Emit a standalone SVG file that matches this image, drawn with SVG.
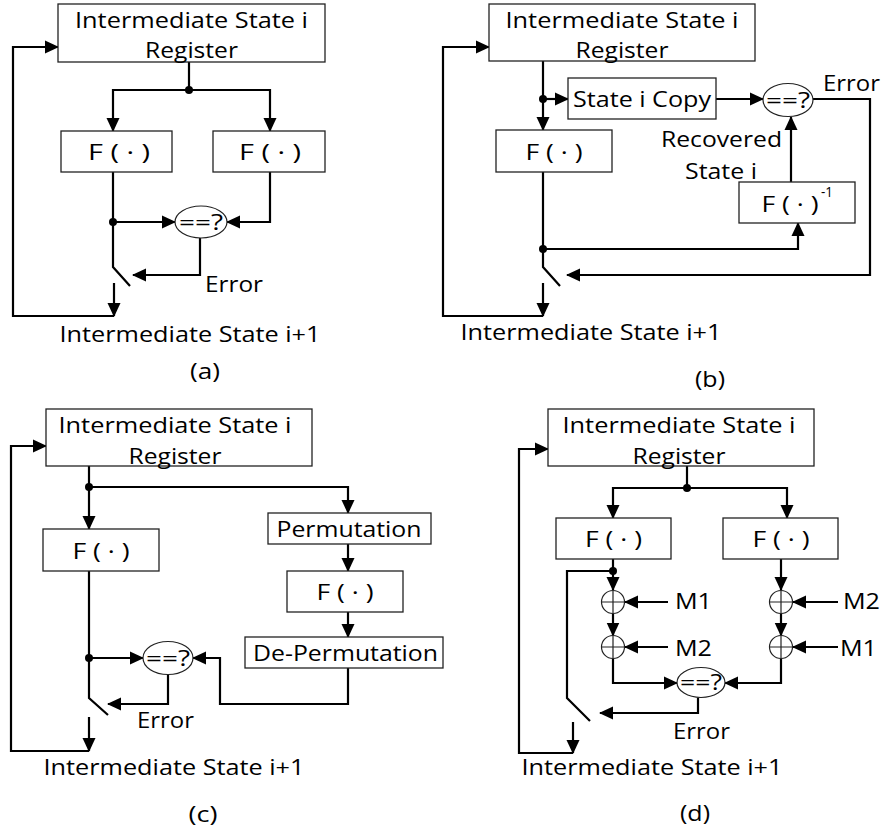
<svg xmlns="http://www.w3.org/2000/svg" width="883" height="830" viewBox="0 0 883 830">
  <style>
    .box { fill: #fff; stroke: #222; stroke-width: 1.3; }
    .cmp { fill: #fff; stroke: #222; stroke-width: 1.2; }
    .w { fill: none; stroke: #000; stroke-width: 2.2; }
    .arr { fill: none; stroke: #000; stroke-width: 2.2; marker-end: url(#ah); }
    .dot { fill: #000; }
    .t { font-family: "Open Sans", "Liberation Sans", sans-serif; font-size: 22.5px; fill: #000; }
    .c { text-anchor: middle; }
    .sup { font-family: "Open Sans", "Liberation Sans", sans-serif; font-size: 14px; fill: #000; }
    .xor { fill: #fff; stroke: #222; stroke-width: 1.2; }
    .xl { stroke: #222; stroke-width: 1.2; }
  </style>
  <defs>
    <marker id="ah" viewBox="0 0 14 14" refX="13" refY="7" markerWidth="14" markerHeight="14" markerUnits="userSpaceOnUse" orient="auto">
      <path d="M0,0.5 L14,7 L0,13.5 z" fill="#000"/>
    </marker>
  </defs>

  <!-- ===================== (a) duplicated computation ===================== -->
  <g id="a-connectors">
    <path class="arr" d="M189,62 V90 H113 V131"/>
    <path class="arr" d="M189,90 H270 V131"/>
    <path class="w" d="M113,172 V267 L130,286"/>
    <path class="arr" d="M113,222 H175"/>
    <path class="arr" d="M270,172 V222 H227"/>
    <path class="arr" d="M200,238 V275 H133"/>
    <path class="arr" d="M114,283 V316"/>
    <path class="arr" d="M114,316 H13 V47 H58"/>
    <circle class="dot" cx="189" cy="90" r="4"/>
    <circle class="dot" cx="113" cy="222" r="4"/>
  </g>
  <g id="a-register">
    <rect class="box" x="58" y="4" width="267" height="58"/>
    <text class="t c" x="191.5" y="28" textLength="233" lengthAdjust="spacingAndGlyphs">Intermediate State i</text>
    <text class="t c" x="191.5" y="58" textLength="93" lengthAdjust="spacingAndGlyphs">Register</text>
  </g>
  <g id="a-f1">
    <rect class="box" x="61" y="131" width="111" height="41"/>
    <text class="t c" x="119" y="159.5" textLength="62" lengthAdjust="spacingAndGlyphs">F ( · )</text>
  </g>
  <g id="a-f2">
    <rect class="box" x="213" y="131" width="112" height="41"/>
    <text class="t c" x="270" y="159.5" textLength="62" lengthAdjust="spacingAndGlyphs">F ( · )</text>
  </g>
  <g id="a-cmp">
    <ellipse class="cmp" cx="201" cy="222" rx="26" ry="16"/>
    <text class="t c" x="201" y="229.5" textLength="44" lengthAdjust="spacingAndGlyphs">==?</text>
  </g>
  <g id="a-labels">
    <text class="t" x="205" y="292" textLength="58" lengthAdjust="spacingAndGlyphs">Error</text>
    <text class="t c" x="190" y="341.5" textLength="261" lengthAdjust="spacingAndGlyphs">Intermediate State i+1</text>
    <text class="t c" x="205" y="378.5" textLength="30" lengthAdjust="spacingAndGlyphs">(a)</text>
  </g>

  <!-- ===================== (b) inverse recomputation ===================== -->
  <g id="b-connectors">
    <path class="arr" d="M543,61 V130"/>
    <path class="arr" d="M543,99 H568"/>
    <path class="arr" d="M716,99 H763"/>
    <path class="arr" d="M813,99 H870 V275 H567"/>
    <path class="w" d="M543,172 V267 L560,286"/>
    <path class="arr" d="M543,249 H798 V223"/>
    <path class="arr" d="M791,182 V117"/>
    <path class="arr" d="M543,283 V316"/>
    <path class="arr" d="M543,316 H443 V47 H489"/>
    <circle class="dot" cx="543" cy="99" r="4"/>
    <circle class="dot" cx="543" cy="249" r="4"/>
  </g>
  <g id="b-register">
    <rect class="box" x="489" y="4" width="266" height="57"/>
    <text class="t c" x="622" y="27.5" textLength="233" lengthAdjust="spacingAndGlyphs">Intermediate State i</text>
    <text class="t c" x="622" y="57.5" textLength="93" lengthAdjust="spacingAndGlyphs">Register</text>
  </g>
  <g id="b-copy">
    <rect class="box" x="568" y="78" width="148" height="41"/>
    <text class="t c" x="642" y="107" textLength="138" lengthAdjust="spacingAndGlyphs">State i Copy</text>
  </g>
  <g id="b-cmp">
    <ellipse class="cmp" cx="788" cy="100" rx="25" ry="16.5"/>
    <text class="t c" x="788" y="107.5" textLength="44" lengthAdjust="spacingAndGlyphs">==?</text>
  </g>
  <g id="b-f">
    <rect class="box" x="496" y="130" width="116" height="42"/>
    <text class="t c" x="554" y="159.5" textLength="57" lengthAdjust="spacingAndGlyphs">F ( · )</text>
  </g>
  <g id="b-finv">
    <rect class="box" x="739" y="182" width="116" height="41"/>
    <text class="t c" x="790" y="212" textLength="57" lengthAdjust="spacingAndGlyphs">F ( · )</text>
    <text class="sup" x="821" y="197" textLength="12" lengthAdjust="spacingAndGlyphs">-1</text>
  </g>
  <g id="b-labels">
    <text class="t" x="823" y="91" textLength="57" lengthAdjust="spacingAndGlyphs">Error</text>
    <text class="t" x="661" y="147" textLength="121" lengthAdjust="spacingAndGlyphs">Recovered</text>
    <text class="t" x="685" y="178.5" textLength="72" lengthAdjust="spacingAndGlyphs">State i</text>
    <text class="t c" x="591" y="340" textLength="261" lengthAdjust="spacingAndGlyphs">Intermediate State i+1</text>
    <text class="t c" x="710" y="386.5" textLength="30" lengthAdjust="spacingAndGlyphs">(b)</text>
  </g>

  <!-- ===================== (c) permuted recomputation ===================== -->
  <g id="c-connectors">
    <path class="arr" d="M89,466 V529"/>
    <path class="arr" d="M89,487 H348 V513"/>
    <path class="arr" d="M348,544 V571"/>
    <path class="arr" d="M348,612 V637"/>
    <path class="arr" d="M348,668 V704 H220 V658 H193"/>
    <path class="w" d="M89,571 V698 L108,715"/>
    <path class="arr" d="M89,658 H143"/>
    <path class="arr" d="M168,675 V704 H108"/>
    <path class="arr" d="M89,717 V751"/>
    <path class="arr" d="M89,751 H11 V446 H46"/>
    <circle class="dot" cx="89" cy="487" r="4"/>
    <circle class="dot" cx="89" cy="658" r="4"/>
  </g>
  <g id="c-register">
    <rect class="box" x="46" y="409" width="266" height="57"/>
    <text class="t c" x="175" y="433" textLength="233" lengthAdjust="spacingAndGlyphs">Intermediate State i</text>
    <text class="t c" x="175" y="463.5" textLength="93" lengthAdjust="spacingAndGlyphs">Register</text>
  </g>
  <g id="c-f1">
    <rect class="box" x="43" y="529" width="116" height="42"/>
    <text class="t c" x="101" y="558.5" textLength="57" lengthAdjust="spacingAndGlyphs">F ( · )</text>
  </g>
  <g id="c-perm">
    <rect class="box" x="268" y="513" width="163" height="31"/>
    <text class="t c" x="349" y="536.5" textLength="145" lengthAdjust="spacingAndGlyphs">Permutation</text>
  </g>
  <g id="c-f2">
    <rect class="box" x="287" y="571" width="116" height="41"/>
    <text class="t c" x="345" y="600" textLength="57" lengthAdjust="spacingAndGlyphs">F ( · )</text>
  </g>
  <g id="c-deperm">
    <rect class="box" x="245" y="637" width="198" height="31"/>
    <text class="t" x="253" y="661" textLength="185" lengthAdjust="spacingAndGlyphs">De-Permutation</text>
  </g>
  <g id="c-cmp">
    <ellipse class="cmp" cx="168" cy="658" rx="25" ry="16.5"/>
    <text class="t c" x="168" y="665.5" textLength="44" lengthAdjust="spacingAndGlyphs">==?</text>
  </g>
  <g id="c-labels">
    <text class="t" x="137" y="728" textLength="57" lengthAdjust="spacingAndGlyphs">Error</text>
    <text class="t c" x="174" y="775" textLength="261" lengthAdjust="spacingAndGlyphs">Intermediate State i+1</text>
    <text class="t c" x="203" y="821.5" textLength="29" lengthAdjust="spacingAndGlyphs">(c)</text>
  </g>

  <!-- ===================== (d) masked duplication ===================== -->
  <g id="d-connectors">
    <path class="w" d="M687,466 V488"/>
    <path class="arr" d="M687,488 H613 V518"/>
    <path class="arr" d="M687,488 H787 V518"/>
    <path class="arr" d="M613,559 V590"/>
    <path class="arr" d="M613,613.5 V635.5"/>
    <path class="arr" d="M781,559 V590"/>
    <path class="arr" d="M781,613.5 V635.5"/>
    <path class="arr" d="M668,602 H625"/>
    <path class="arr" d="M668,647 H625"/>
    <path class="arr" d="M838,602 H793"/>
    <path class="arr" d="M838,647 H793"/>
    <path class="arr" d="M613,658.5 V683 H677"/>
    <path class="arr" d="M781,658.5 V683 H725"/>
    <path class="arr" d="M698,697.5 V713 H600"/>
    <path class="w" d="M613,571 H567 V698 L590,721"/>
    <path class="arr" d="M573,722 V753"/>
    <path class="arr" d="M573,753 H519 V449 H548"/>
    <circle class="dot" cx="687" cy="488" r="4"/>
    <circle class="dot" cx="613" cy="571" r="4"/>
  </g>
  <g id="d-register">
    <rect class="box" x="548" y="409" width="266" height="57"/>
    <text class="t c" x="679" y="433" textLength="233" lengthAdjust="spacingAndGlyphs">Intermediate State i</text>
    <text class="t c" x="679" y="463.5" textLength="93" lengthAdjust="spacingAndGlyphs">Register</text>
  </g>
  <g id="d-f1">
    <rect class="box" x="556" y="518" width="115" height="41"/>
    <text class="t c" x="613.5" y="547" textLength="57" lengthAdjust="spacingAndGlyphs">F ( · )</text>
  </g>
  <g id="d-f2">
    <rect class="box" x="723" y="518" width="115" height="41"/>
    <text class="t c" x="781" y="547" textLength="57" lengthAdjust="spacingAndGlyphs">F ( · )</text>
  </g>
  <g id="d-xor1">
    <circle class="xor" cx="613" cy="602" r="11.5"/>
    <path class="xl" d="M601.5,602 H624.5 M613,590.5 V613.5"/>
  </g>
  <g id="d-xor2">
    <circle class="xor" cx="613" cy="647" r="11.5"/>
    <path class="xl" d="M601.5,647 H624.5 M613,635.5 V658.5"/>
  </g>
  <g id="d-xor3">
    <circle class="xor" cx="781" cy="602" r="11.5"/>
    <path class="xl" d="M769.5,602 H792.5 M781,590.5 V613.5"/>
  </g>
  <g id="d-xor4">
    <circle class="xor" cx="781" cy="647" r="11.5"/>
    <path class="xl" d="M769.5,647 H792.5 M781,635.5 V658.5"/>
  </g>
  <g id="d-cmp">
    <ellipse class="cmp" cx="701" cy="682.5" rx="24" ry="15"/>
    <text class="t c" x="701" y="690" textLength="42" lengthAdjust="spacingAndGlyphs">==?</text>
  </g>
  <g id="d-labels">
    <text class="t" x="675" y="609" textLength="37" lengthAdjust="spacingAndGlyphs">M1</text>
    <text class="t" x="675" y="655.5" textLength="37" lengthAdjust="spacingAndGlyphs">M2</text>
    <text class="t" x="843" y="609" textLength="37" lengthAdjust="spacingAndGlyphs">M2</text>
    <text class="t" x="840" y="655.5" textLength="37" lengthAdjust="spacingAndGlyphs">M1</text>
    <text class="t" x="673" y="738.5" textLength="57" lengthAdjust="spacingAndGlyphs">Error</text>
    <text class="t c" x="652" y="775" textLength="261" lengthAdjust="spacingAndGlyphs">Intermediate State i+1</text>
    <text class="t c" x="695" y="820.5" textLength="30" lengthAdjust="spacingAndGlyphs">(d)</text>
  </g>
</svg>
